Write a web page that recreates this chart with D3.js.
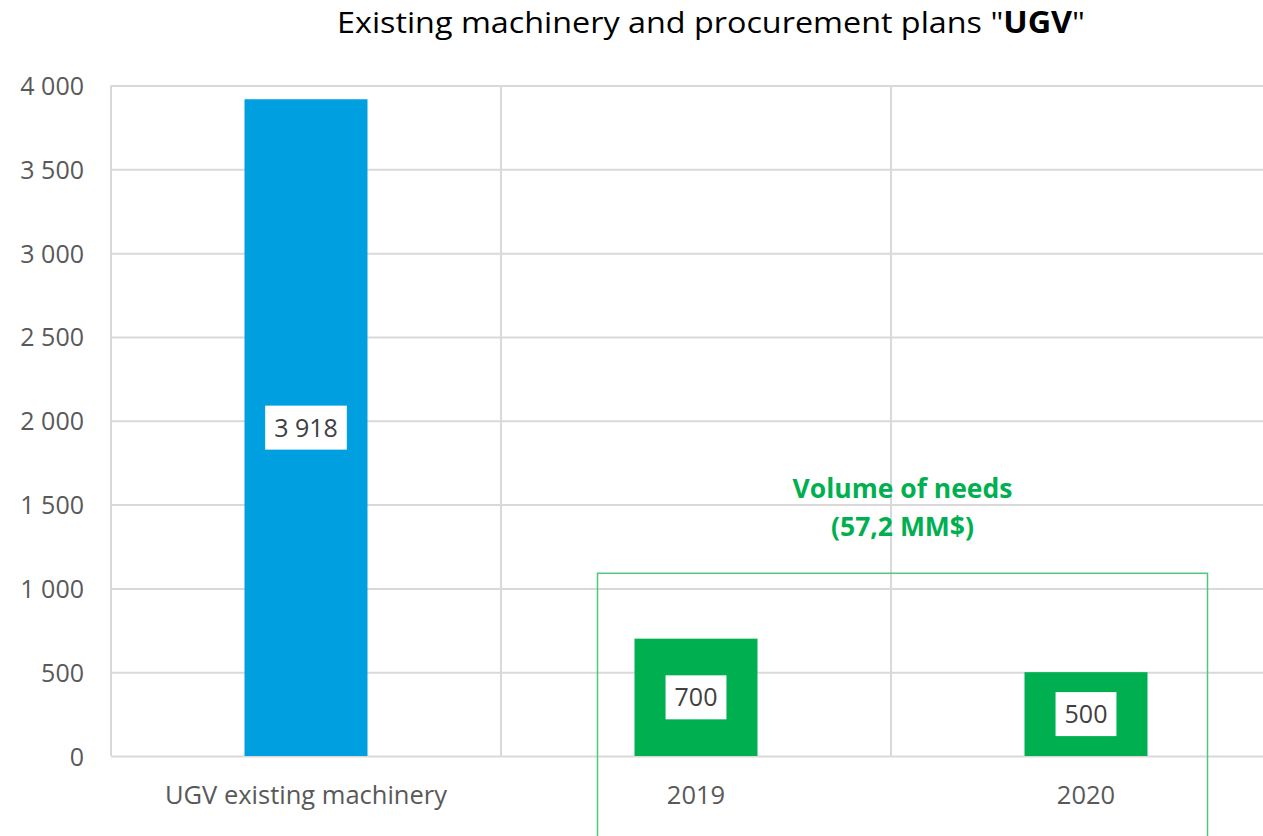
<!DOCTYPE html>
<html>
<head>
<meta charset="utf-8">
<script src="https://cdn.jsdelivr.net/npm/d3@7"></script>
<style>
  body { margin: 0; background: #fff; }
  text { font-family: "Open Sans", sans-serif; }
</style>
</head>
<body>
<svg class="bar-chart"></svg>
<script>
// data
var categories = ["UGV existing machinery", "2019", "2020"];
var values = [3918, 700, 500];
var barColors = ["#009fe0", "#00b050", "#00b050"];
var yTicks = [0, 500, 1000, 1500, 2000, 2500, 3000, 3500, 4000];
var needsLabel = ["Volume of needs", "(57,2 MM$)"];
var needsTop = 1090; // top of the green frame, in axis units

CHART_WIDTH = 1263;
CHART_HEIGHT = 836;
PLOT = { left: 111, right: 1281, top: 85.5, bottom: 756 };

var fmt = d3.formatLocale({ decimal: ",", thousands: " ", grouping: [3], currency: ["", "$"] }).format(",d");

function buildChart() {
    var svg = d3.select(".bar-chart")
        .attr("width", CHART_WIDTH)
        .attr("height", CHART_HEIGHT);

    var xBand = d3.scaleBand().domain(categories).range([PLOT.left, PLOT.right]);
    var barW = 123;
    var yScale = d3.scaleLinear().domain([0, 4000]).range([PLOT.bottom, PLOT.top]);

    // horizontal grid + y labels
    var yAxis = svg.append("g")
        .attr("transform", "translate(" + PLOT.left + ",0)")
        .call(d3.axisLeft(yScale).tickValues(yTicks).tickFormat(fmt)
              .tickSize(-(PLOT.right - PLOT.left)).tickPadding(27));
    yAxis.select(".domain").remove();
    yAxis.selectAll("line").attr("stroke", "#d9d9d9").attr("stroke-width", 2);
    yAxis.selectAll("text")
        .attr("fill", "#595959")
        .style("font-size", "25px")
        .attr("dy", "0.36em");

    // vertical grid lines between categories
    var vlines = categories.map(function(c) { return xBand(c); }).concat([PLOT.right]);
    svg.append("g").selectAll("line")
        .data(vlines)
        .enter().append("line")
        .attr("x1", function(d) { return d; })
        .attr("x2", function(d) { return d; })
        .attr("y1", PLOT.top)
        .attr("y2", PLOT.bottom)
        .attr("stroke", "#d9d9d9")
        .attr("stroke-width", 2);

    // bars
    svg.append("g").selectAll("rect")
        .data(values)
        .enter().append("rect")
        .attr("x", function(d, i) { return xBand(categories[i]) + (xBand.bandwidth() - barW) / 2; })
        .attr("y", function(d) { return yScale(d); })
        .attr("width", barW)
        .attr("height", function(d) { return yScale(0) - yScale(d); })
        .attr("fill", function(d, i) { return barColors[i]; });

    // data labels in white boxes
    var lab = svg.append("g").selectAll("g")
        .data(values)
        .enter().append("g")
        .attr("transform", function(d, i) {
            return "translate(" + (xBand(categories[i]) + xBand.bandwidth() / 2) + "," + (yScale(d / 2)) + ")";
        });
    lab.append("text")
        .attr("text-anchor", "middle")
        .attr("dy", "0.36em")
        .attr("fill", "#404040")
        .style("font-size", "25px")
        .text(function(d) { return fmt(d); });
    lab.each(function() {
        var g = d3.select(this);
        var bb = g.select("text").node().getBBox();
        g.insert("rect", "text")
            .attr("x", bb.x - 9)
            .attr("y", -22)
            .attr("width", bb.width + 18)
            .attr("height", 44)
            .attr("fill", "#fff");
    });

    // category labels
    svg.append("g").selectAll("text")
        .data(categories)
        .enter().append("text")
        .attr("x", function(d) { return xBand(d) + xBand.bandwidth() / 2; })
        .attr("y", 795)
        .attr("dy", "0.36em")
        .attr("text-anchor", "middle")
        .attr("fill", "#595959")
        .style("font-size", "25.5px")
        .text(function(d) { return d; });

    // "volume of needs" frame
    var x19 = xBand("2019") + (xBand.bandwidth() - barW) / 2;
    var x20 = xBand("2020") + (xBand.bandwidth() - barW) / 2 + barW;
    svg.append("rect")
        .attr("x", x19 - 37)
        .attr("y", yScale(needsTop))
        .attr("width", (x20 + 60) - (x19 - 37))
        .attr("height", CHART_HEIGHT - yScale(needsTop) + 10)
        .attr("fill", "none")
        .attr("stroke", "#50c77f")
        .attr("stroke-width", 1.5);
    svg.append("g").selectAll("text")
        .data(needsLabel)
        .enter().append("text")
        .attr("x", (x19 - 37 + x20 + 60) / 2)
        .attr("y", function(d, i) { return 488 + i * 38; })
        .attr("dy", "0.36em")
        .attr("text-anchor", "middle")
        .attr("fill", "#00b050")
        .style("font-size", "26.5px")
        .style("font-weight", "bold")
        .text(function(d) { return d; });

    // title
    var title = svg.append("text")
        .attr("x", 711)
        .attr("y", 22)
        .attr("dy", "0.36em")
        .attr("text-anchor", "middle")
        .attr("fill", "#000")
        .attr("textLength", 748)
        .attr("lengthAdjust", "spacingAndGlyphs")
        .style("font-size", "30px");
    title.append("tspan").text("Existing machinery and procurement plans \"");
    title.append("tspan").style("font-weight", "bold").text("UGV");
    title.append("tspan").text("\"");
}

buildChart();
</script>
</body>
</html>
